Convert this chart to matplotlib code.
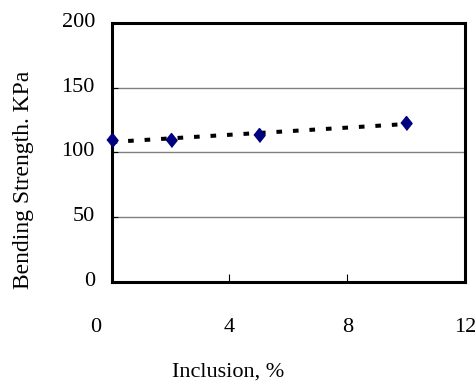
import numpy as np
import matplotlib
matplotlib.use("Agg")
import matplotlib.pyplot as plt
import matplotlib.transforms as mtransforms

# data
inclusion = [0, 2, 5, 10]
strength = [110, 109.5, 113.5, 123]

x_ticks = [0, 4, 8, 12]
y_ticks = [0, 50, 100, 150, 200]

plt.rcParams['font.family'] = ['Liberation Serif', 'DejaVu Serif']
plt.rcParams['font.size'] = 16

fig = plt.figure(figsize=(4.77, 3.88), dpi=100)
ax = fig.add_axes([0.234, 0.273, 0.741, 0.668])

# linear trend line through the points
k, b = np.polyfit(inclusion, strength, 1)
xs = np.array([min(inclusion), max(inclusion)])
ax.plot(xs, k * xs + b, color='black', lw=2.9, linestyle=(0, (1.4, 2.7)),
        zorder=3)

diamond = [(-0.4, 0), (0, 0.5), (0.4, 0), (0, -0.5)]
ax.plot(inclusion, strength, linestyle='none', marker=diamond, markersize=10,
        color='#000080', clip_on=False, zorder=5)

ax.set_xlim(0, 12)
ax.set_ylim(0, 200)
ax.set_xticks(x_ticks)
ax.set_yticks(y_ticks)
ax.yaxis.grid(True, color='#808080', lw=1.0)
ax.set_axisbelow(True)

for s in ax.spines.values():
    s.set_linewidth(2.2)
    s.set_color('black')

ax.tick_params(axis='x', direction='in', length=6, width=0.8, pad=26)
ax.tick_params(axis='y', direction='in', length=4.5, width=0.8, pad=12)

# Excel pushes the "0" label a bit to the left of the axis
lab0 = ax.get_xticklabels()[0]
lab0.set_transform(lab0.get_transform() +
                   mtransforms.ScaledTranslation(-16 / 100, 0, fig.dpi_scale_trans))
for lab in ax.get_yticklabels():
    lab.set_transform(lab.get_transform() +
                      mtransforms.ScaledTranslation(0, 3 / 100, fig.dpi_scale_trans))

fig.text(228.5 / 477, 1 - 372 / 388, 'Inclusion, %', ha='center', va='center')
fig.text(24 / 477, 1 - 180 / 388, 'Bending Strength. KPa', rotation=90,
         ha='center', va='center', fontsize=17)

fig.savefig('out.png', dpi=100)
